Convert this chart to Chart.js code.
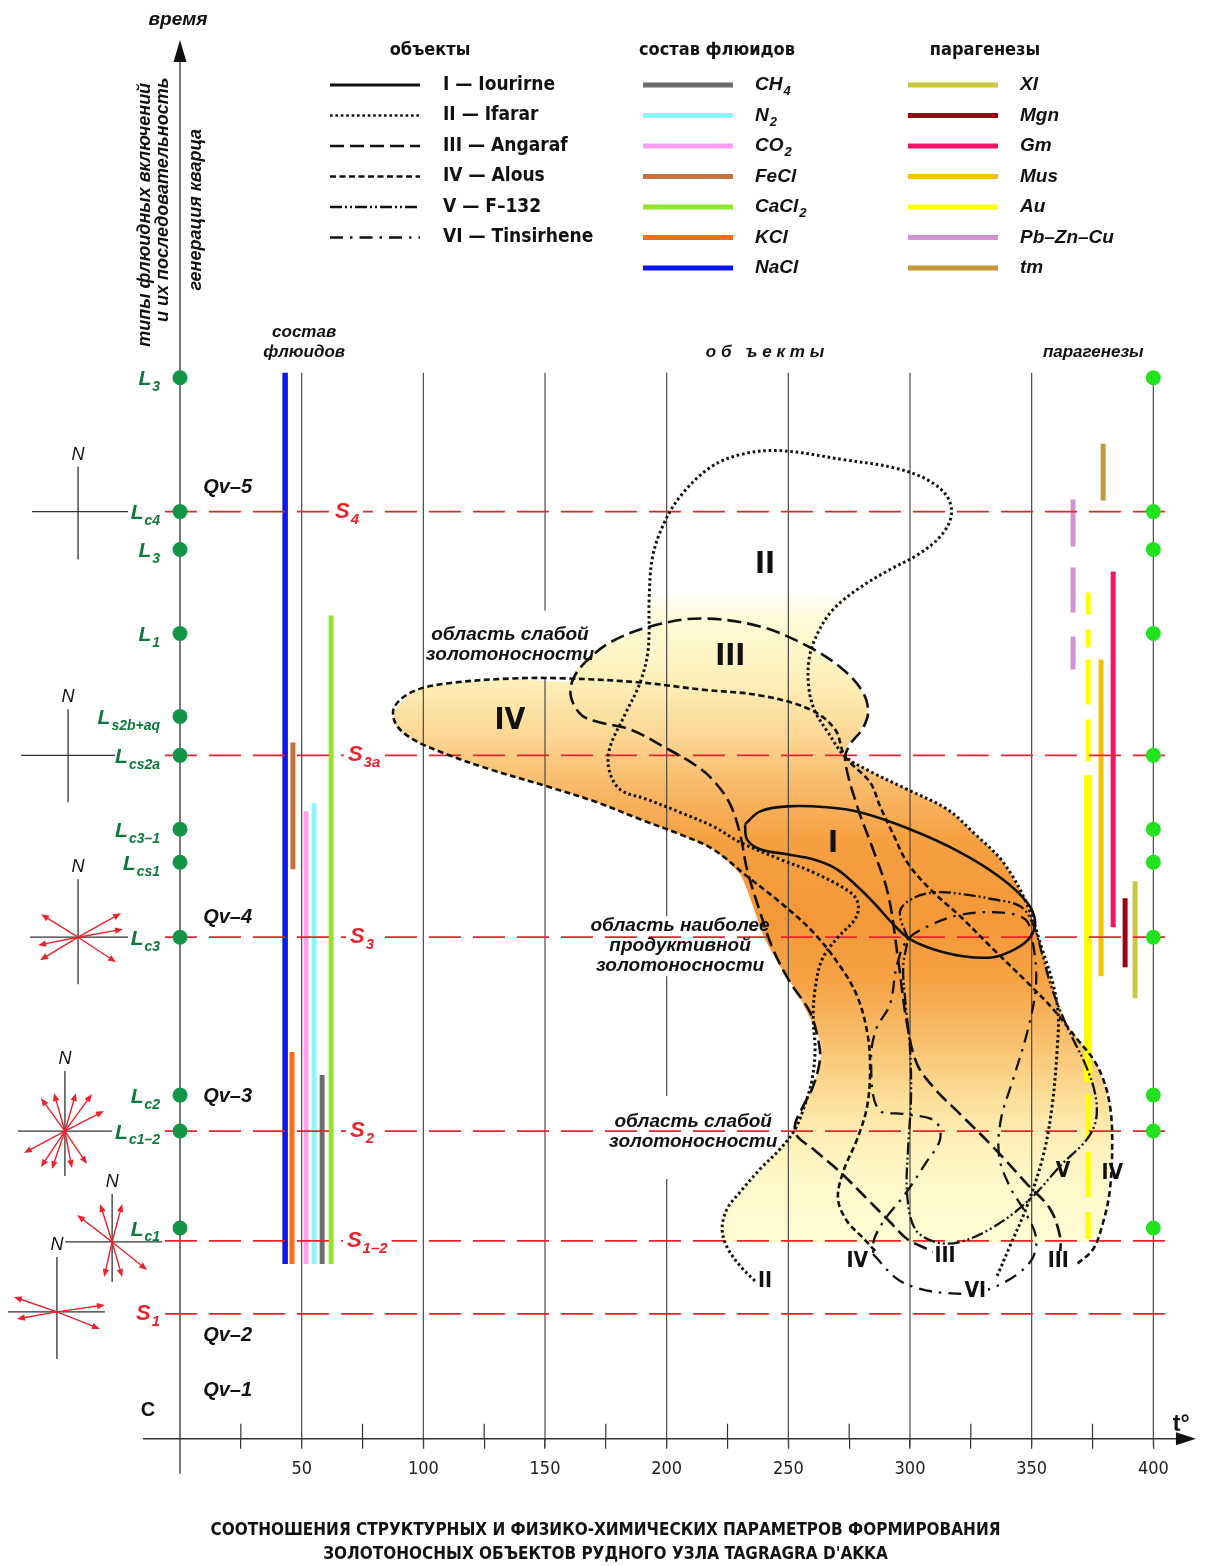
<!DOCTYPE html>
<html>
<head>
<meta charset="utf-8">
<title>Tagragra d'Akka</title>
<script src="https://cdn.jsdelivr.net/npm/chart.js@4.4.1/dist/chart.umd.min.js"></script>
<style>
  html, body { margin: 0; padding: 0; background: #fff; }
  canvas { display: block; }
</style>
</head>
<body>
<canvas id="chart" width="1211" height="1566"></canvas>
<script>
// x = temperature t°, y = relative time level (0 = base of the section)
const tempTicks = [25, 50, 75, 100, 125, 150, 175, 200, 225, 250, 275, 300, 325, 350, 375, 400];
const gridTemps = [50, 100, 150, 200, 250, 300, 350, 400];

// quartz generations / fluid inclusion types on the time axis
const levelY = [106.2, 92.8, 89.0, 80.6, 72.3, 68.4, 61.0, 57.7, 50.2, 34.4, 30.8, 21.1];
const levelNames = [['L', '3'], ['L', 'c4'], ['L', '3'], ['L', '1'], ['L', 's2b+aq'], ['L', 'cs2a'],
  ['L', 'c3–1'], ['L', 'cs1'], ['L', 'c3'], ['L', 'c2'], ['L', 'c1–2'], ['L', 'c1']];
const rightLevelY = [106.2, 92.8, 89.0, 80.6, 68.4, 61.0, 57.7, 50.2, 34.4, 30.8, 21.1];

// structural stages
const stageY = [92.8, 68.4, 50.2, 30.8, 19.8, 12.5];
const stageNames = [['S', '4'], ['S', '3a'], ['S', '3'], ['S', '2'], ['S', '1–2'], ['S', '1']];
const qvNames = ['Qv–5', 'Qv–4', 'Qv–3', 'Qv–2', 'Qv–1'];
const qvY = [95.2, 52.2, 34.3, 10.3, 4.8];

// fluid composition bars
const fluidNames = [['CH', '4'], ['N', '2'], ['CO', '2'], ['FeCl', ''], ['CaCl', '2'], ['KCl', ''], ['NaCl', '']];
const fluidColors = ['#6b6b6b', '#8cf3ff', '#ff9ff2', '#c8703e', '#8fe62a', '#ff6b12', '#0b16f2'];
const fluidT = [58.4, 55.1, 51.8, 46.4, 62.1, 46.0, 43.2];
const fluidRanges = [[[36.4, 17.5]], [[63.6, 17.5]], [[62.8, 17.5]], [[69.7, 57.0]], [[82.4, 17.5]], [[38.7, 17.5]], [[106.7, 17.5]]];

// parageneses bars
const parNames = ['Xl', 'Mgn', 'Gm', 'Mus', 'Au', 'Pb–Zn–Cu', 'tm'];
const parColors = ['#cbc63e', '#a0000f', '#f01468', '#f6c200', '#ffff00', '#d393d3', '#c8963a'];
const parT = [392.5, 388.4, 383.5, 378.5, 373.2, 367.0, 379.4];
const parRanges = [[[55.8, 44.1]], [[54.1, 47.2]], [[86.8, 51.2]], [[78.0, 46.3]],
  [[84.7, 82.5], [81.0, 79.2], [78.0, 73.5], [72.0, 67.8], [34.5, 30.0], [28.7, 24.2], [22.7, 20.0]],
  [[94.0, 89.3], [87.2, 82.7], [80.3, 77.0]], [[99.6, 93.9]]];
const auMain = [66.4, 35.7];

// objects
const objectNames = ['I — Iourirne', 'II — Ifarar', 'III — Angaraf', 'IV — Alous', 'V — F–132', 'VI — Tinsirhene'];

const outlineI = [[232.2, 61.5], [238.4, 62.8], [249.5, 63.3], [265.9, 63.2], [279.5, 62.7], [300.0, 61.0], [320.6, 58.7],
  [337.0, 56.2], [348.1, 53.7], [351.4, 51.8], [349.4, 50.2], [343.2, 49.0], [334.2, 48.2], [321.8, 48.3], [309.5, 49.0],
  [300.0, 50.0], [293.1, 51.5], [285.7, 53.5], [278.7, 55.2], [270.0, 57.0], [260.2, 58.0], [249.5, 58.5], [238.4, 59.0],
  [233.0, 60.0], [232.2, 61.5]];

const outlineII = [[236.3, 15.8], [230.2, 17.3], [224.8, 19.2], [222.8, 21.0], [224.8, 23.0], [230.2, 24.7], [238.4, 27.0],
  [246.6, 29.0], [252.8, 31.0], [256.9, 33.5], [259.8, 36.0], [261.0, 39.0], [260.2, 42.0], [261.0, 45.0], [263.9, 48.0],
  [270.4, 50.2], [277.4, 52.0], [278.7, 53.5], [275.4, 54.7], [260.2, 56.7], [246.6, 58.0], [230.2, 59.7], [219.1, 61.3],
  [205.5, 62.7], [191.9, 64.0], [180.8, 65.0], [176.3, 67.0], [176.7, 69.2], [182.9, 72.5], [189.1, 75.7], [192.4, 79.0],
  [192.8, 84.0], [194.0, 88.0], [198.1, 91.2], [205.5, 94.3], [217.8, 97.2], [230.2, 98.5], [246.6, 98.9], [272.5, 98.0],
  [293.1, 97.2], [307.0, 96.0], [315.3, 94.3], [316.9, 92.3], [312.4, 90.3], [303.3, 88.5], [291.8, 87.0], [279.5, 85.2],
  [268.4, 83.0], [261.8, 80.5], [258.5, 78.0], [258.5, 75.0], [261.0, 72.8], [266.3, 70.7], [273.3, 68.3], [283.6, 66.8],
  [298.8, 65.0], [315.3, 63.0], [326.8, 60.5], [338.3, 57.7], [348.1, 53.5], [354.3, 49.0], [358.8, 45.5], [360.9, 42.5],
  [360.5, 39.0], [358.4, 33.3], [354.7, 28.3], [348.1, 23.3], [341.1, 19.3], [335.8, 16.3]];

const outlineIII = [[314.4, 18.2], [307.0, 19.0], [298.8, 20.0], [291.8, 21.7], [282.4, 24.0], [271.3, 26.7], [260.2, 29.0],
  [253.6, 30.3], [252.8, 31.5], [256.1, 33.3], [260.2, 35.3], [263.0, 38.0], [262.2, 40.0], [258.9, 42.7], [250.7, 45.7],
  [243.7, 49.0], [238.4, 52.7], [233.0, 57.0], [230.2, 60.5], [226.1, 63.5], [219.9, 65.7], [212.5, 67.3], [198.5, 69.3],
  [185.0, 71.0], [172.6, 71.7], [165.2, 72.4], [160.7, 74.2], [161.5, 76.0], [166.5, 77.7], [176.7, 79.7], [193.2, 81.3],
  [213.7, 82.1], [238.4, 81.3], [258.9, 79.2], [272.5, 77.0], [280.7, 74.7], [282.8, 72.7], [280.3, 71.0], [275.4, 69.5],
  [273.3, 68.0], [278.3, 63.3], [284.8, 59.0], [291.0, 54.5], [295.1, 48.0], [298.8, 41.5], [302.9, 37.5], [310.3, 35.0],
  [320.6, 32.5], [334.2, 29.2], [348.1, 25.5], [357.6, 23.0], [361.7, 20.2], [361.7, 18.5]];

const outlineIV = [[285.7, 18.8], [280.3, 20.2], [274.1, 21.8], [270.4, 24.0], [272.5, 26.7], [278.3, 30.0], [282.4, 33.3],
  [283.6, 37.3], [282.4, 40.7], [278.3, 44.3], [271.3, 47.3], [260.2, 50.7], [246.6, 53.7], [233.0, 56.3], [219.1, 59.0],
  [205.5, 60.5], [189.1, 62.0], [171.4, 63.7], [150.8, 65.3], [127.4, 67.0], [109.7, 68.5], [95.8, 70.0], [88.8, 71.5],
  [88.0, 73.2], [95.8, 74.8], [109.7, 75.6], [136.9, 76.1], [159.1, 76.1], [189.1, 75.7], [213.7, 75.0], [238.4, 74.4],
  [258.9, 73.0], [269.2, 71.0], [273.3, 68.3], [283.6, 65.7], [287.7, 63.3], [293.1, 60.5], [298.8, 57.7], [308.3, 55.0],
  [320.6, 52.3], [334.2, 49.0], [348.1, 45.7], [358.8, 43.0], [368.7, 40.0], [375.3, 38.0], [379.4, 36.0], [382.2, 33.3],
  [383.1, 30.0], [382.2, 25.0], [379.4, 21.7], [375.3, 19.0], [368.7, 17.5]];

const outlineV = [[299.2, 50.0], [295.9, 52.8], [302.1, 54.2], [311.1, 54.7], [321.8, 54.5], [334.2, 54.0], [345.3, 53.3],
  [350.6, 51.5], [354.3, 48.5], [358.4, 45.0], [365.0, 41.0], [372.0, 37.5], [376.1, 34.5], [376.5, 32.0], [372.8, 30.0],
  [362.5, 27.5], [349.4, 24.0], [335.0, 21.3], [320.6, 19.7], [310.3, 19.7], [302.1, 21.0], [298.8, 24.5], [299.2, 29.0],
  [300.4, 34.0], [300.0, 39.0], [298.0, 44.0], [297.2, 47.3], [299.2, 50.0]];

const outlineVI = [[284.8, 18.5], [294.7, 16.0], [304.2, 15.0], [314.4, 14.6], [326.8, 14.6], [335.8, 15.3], [345.3, 16.7],
  [350.6, 18.2], [351.8, 20.2], [347.3, 22.7], [341.1, 25.2], [336.6, 28.3], [337.4, 32.0], [342.4, 36.0], [348.5, 41.0],
  [351.8, 45.5], [350.6, 49.5], [347.3, 52.0], [335.0, 52.7], [319.8, 52.4], [308.3, 51.4], [299.2, 50.0], [294.7, 47.5],
  [291.8, 43.5], [286.1, 41.0], [284.0, 38.0], [286.9, 33.0], [298.0, 32.5], [310.3, 31.8], [312.4, 30.0], [306.2, 27.5],
  [298.0, 24.5], [289.8, 22.0], [285.3, 20.0], [284.8, 18.5]];

// envelope of the gold-bearing field (shaded)
const envelope = [[87.5, 72.7], [95.8, 74.8], [109.7, 75.6], [136.9, 76.0], [161.5, 75.8], [162.3, 76.8], [168.5, 78.5],
  [178.8, 80.0], [192.4, 81.2], [193.2, 84.4], [275.4, 84.4], [266.3, 82.2], [259.8, 79.2], [272.5, 77.0], [280.7, 74.7],
  [282.8, 72.7], [279.5, 71.0], [274.6, 69.5], [273.3, 68.3], [279.5, 67.3], [298.8, 65.0], [315.3, 63.0], [326.8, 60.5],
  [338.3, 57.7], [348.1, 53.5], [353.5, 49.5], [358.4, 45.5], [363.7, 41.8], [371.1, 39.3], [376.9, 37.3], [381.0, 34.7],
  [382.7, 31.5], [382.2, 26.7], [380.6, 23.3], [377.3, 20.7], [374.0, 19.7], [223.2, 19.7], [222.8, 21.3], [224.8, 23.0],
  [230.2, 24.7], [238.4, 27.0], [246.6, 29.0], [252.0, 30.7], [256.1, 33.3], [260.2, 35.3], [263.0, 37.5], [263.5, 39.5],
  [261.0, 41.0], [253.6, 44.7], [246.6, 47.3], [240.4, 50.0], [235.5, 53.3], [230.2, 56.5], [219.1, 59.0], [205.5, 60.5],
  [189.1, 62.0], [171.4, 63.7], [150.8, 65.3], [127.4, 67.0], [109.7, 68.5], [95.8, 70.0], [89.2, 71.2], [87.5, 72.7]];
const fillStops = [[85.0, '#ffffff'], [82.0, '#fffbd8'], [76.0, '#fef0ba'], [70.0, '#fcd592'], [65.0, '#f9b866'],
  [60.0, '#f6a042'], [52.0, '#f49838'], [46.0, '#f6a244'], [40.0, '#f9bf6c'], [35.0, '#fcda92'], [30.0, '#fff0b8'],
  [25.0, '#fff9cc'], [19.5, '#fffbd4']];

const SANS = '"Liberation Sans", Arial, sans-serif';
const NARROW = '"Liberation Sans Narrow", "Arial Narrow", "DejaVu Sans Condensed", sans-serif';
const RED = '#e8232b';

const pts = (arr) => arr.map(([x, y]) => ({x, y}));
function bars(t, ranges) {
  const out = [];
  ranges.forEach(([a, b]) => { out.push({x: t, y: a}, {x: t, y: b}, {x: t, y: null}); });
  return out;
}

function fillGradient(context) {
  const chart = context.chart;
  if (!chart.chartArea) return 'rgba(0,0,0,0)';
  const ys = chart.scales.y;
  const top = ys.getPixelForValue(fillStops[0][0]);
  const bottom = ys.getPixelForValue(fillStops[fillStops.length - 1][0]);
  const g = chart.ctx.createLinearGradient(0, top, 0, bottom);
  fillStops.forEach(([lv, c]) => g.addColorStop((ys.getPixelForValue(lv) - top) / (bottom - top), c));
  return g;
}

// datasets are pushed back to front
const datasets = [];
datasets.push({label: 'field', data: pts(envelope), borderColor: 'rgba(0,0,0,0)', borderWidth: 0,
  backgroundColor: fillGradient, fill: 'shape', tension: 0.2});

// vertical grid lines, broken where the notes sit
const gridTop = 106.7, gridBottom = -0.8;
const gridGaps = {150: [[82.9, 76.2]], 200: [[52.3, 46.3], [34.3, 26.0]]};
const gridData = [];
gridTemps.forEach(g => {
  let from = gridTop;
  (gridGaps[g] || []).forEach(([a, b]) => { gridData.push({x: g, y: from}, {x: g, y: a}, {x: g, y: null}); from = b; });
  gridData.push({x: g, y: from}, {x: g, y: gridBottom}, {x: g, y: null});
});
datasets.push({label: 'grid', data: gridData, borderColor: '#4a4a4a', borderWidth: 1.2, clip: false});

// axes lines
datasets.push({label: 'time axis', data: [{x: 0, y: -3.5}, {x: 0, y: 138}], borderColor: '#555', borderWidth: 1.6, clip: false});
datasets.push({label: 'temperature axis', data: [{x: -15.2, y: 0}, {x: 410, y: 0}], borderColor: '#333', borderWidth: 1.5, clip: false});
const minorData = [];
tempTicks.filter(v => v % 50 !== 0).forEach(v => minorData.push({x: v, y: 0}, {x: v, y: 1.5}, {x: v, y: null}));
datasets.push({label: 'minor ticks', data: minorData, borderColor: '#333', borderWidth: 1.2, clip: false});

// fluid composition
fluidNames.forEach((n, i) => {
  datasets.push({label: n.join(''), data: bars(fluidT[i], fluidRanges[i]), borderColor: fluidColors[i],
    borderWidth: n[0] === 'NaCl' ? 5.5 : 5, borderCapStyle: 'butt'});
});
// parageneses
parNames.forEach((n, i) => {
  datasets.push({label: n, data: bars(parT[i], parRanges[i]), borderColor: parColors[i], borderWidth: 5});
});
datasets.push({label: 'Au main', data: bars(parT[4], [auMain]), borderColor: parColors[4], borderWidth: 8});

// stage lines S
const stageData = [];
stageY.forEach(y => stageData.push({x: -6.2, y}, {x: 407.7, y}, {x: -6.2, y: null}));
datasets.push({label: 'stages', data: stageData, borderColor: RED, borderWidth: 1.7, borderDash: [32, 12], clip: false});

// objects
const outlines = [outlineI, outlineII, outlineIII, outlineIV, outlineV, outlineVI];
const objectDash = [[], [2.6, 2.8], [14, 6], [6, 3.5], [12, 3, 2, 3, 2, 3], [13, 7, 2.5, 7]];
const objectWidth = [2.6, 3, 2.6, 2.6, 2.3, 2.3];
outlines.forEach((o, i) => {
  datasets.push({label: objectNames[i], data: pts(o), borderColor: '#111', borderWidth: objectWidth[i],
    borderDash: objectDash[i], tension: 0.35, clip: false});
});

// level points
datasets.push({label: 'levels', data: levelY.map(y => ({x: 0, y})), showLine: false,
  pointRadius: 7.5, pointBackgroundColor: '#139548', pointBorderWidth: 0});
datasets.push({label: 'levels right', data: rightLevelY.map(y => ({x: 400, y})), showLine: false,
  pointRadius: 7.5, pointBackgroundColor: '#22e11f', pointBorderWidth: 0});

datasets.forEach((d, i) => { d.order = datasets.length - i; d.spanGaps = false; if (d.pointRadius === undefined) d.pointRadius = 0; });

// text helpers
function subText(ctx, base, s, x, y, size, align, color, style, bg) {
  const st = style || 'italic bold';
  ctx.font = `${st} ${size}px ${SANS}`;
  const w1 = ctx.measureText(base).width;
  const ss = Math.round(size * 0.66);
  ctx.font = `${st} ${ss}px ${SANS}`;
  const w2 = s ? ctx.measureText(s).width + 1 : 0;
  const w = w1 + w2;
  let x0 = x;
  if (align === 'right') x0 = x - w; else if (align === 'center') x0 = x - w / 2;
  if (bg) { ctx.fillStyle = bg; ctx.fillRect(x0 - 4, y - size * 0.62, w + 8, size * 1.45); }
  ctx.fillStyle = color;
  ctx.textAlign = 'left';
  ctx.textBaseline = 'middle';
  ctx.font = `${st} ${size}px ${SANS}`;
  ctx.fillText(base, x0, y);
  if (s) { ctx.font = `${st} ${ss}px ${SANS}`; ctx.fillText(s, x0 + w1 + 1, y + size * 0.36); }
}
function label(ctx, text, x, y, font, color, align, bg) {
  ctx.font = font;
  ctx.textAlign = align || 'center';
  ctx.textBaseline = 'middle';
  if (bg) {
    const w = ctx.measureText(text).width;
    const x0 = ctx.textAlign === 'center' ? x - w / 2 : ctx.textAlign === 'right' ? x - w : x;
    ctx.fillStyle = bg; ctx.fillRect(x0 - 2, y - 11, w + 4, 22);
  }
  ctx.fillStyle = color;
  ctx.fillText(text, x, y);
}

const roses = [
  {t: -41.9, y: 92.8, h: [-46, 50], v: [-45, 48], rays: []},
  {t: -46.0, y: 68.4, h: [-47, 47], v: [-46, 47], rays: []},
  {t: -41.9, y: 50.2, h: [-48, 50], v: [-58, 47], rays: [[-37, -23], [43, -24], [45, -8], [-40, 8], [-38, 23], [38, 25]]},
  {t: -47.3, y: 30.8, h: [-47, 47], v: [-60, 45], rays: [[-24, -33], [-11, -38], [11, -38], [27, -37], [39, -20],
    [-41, 22], [-24, 36], [-13, 38], [7, 37], [22, 33]]},
  {t: -27.9, y: 19.7, h: [-47, 50], v: [-48, 40], rays: [[-35, -27], [-12, -38], [10, -38], [35, 28], [10, 35], [-8, 35]]},
  {t: -50.6, y: 12.7, h: [-49, 48], v: [-55, 47], rays: [[-43, -15], [48, -7], [-40, 7], [43, 17]]}
];
const stageLabelPos = [[63.7, 'left'], [69.0, 'left'], [69.9, 'left'], [69.9, 'left'], [68.6, 'left'], [-8.2, 'right']];
const notes = [
  {lines: ['область слабой', 'золотоносности'], t: 135.6, y: 80.5},
  {lines: ['область наиболее', 'продуктивной', 'золотоносности'], t: 205.5, y: 51.3},
  {lines: ['область слабой', 'золотоносности'], t: 210.9, y: 31.7}
];
const romanBig = [['II', 240.4, 87.4], ['III', 226.1, 78.2], ['IV', 135.6, 71.8], ['I', 268.4, 59.5]];
const romanSmall = [['II', 240.4, 15.7], ['IV', 278.3, 17.7], ['III', 314.4, 18.2], ['VI', 326.8, 14.7],
  ['III', 360.9, 17.7], ['V', 362.9, 26.7], ['IV', 383.1, 26.5]];

const drawing = {
  id: 'drawing',
  afterDatasetsDraw(chart) {
    const ctx = chart.ctx;
    const X = t => chart.scales.x.getPixelForValue(t);
    const Y = v => chart.scales.y.getPixelForValue(v);
    ctx.save();

    // axis arrows
    ctx.fillStyle = '#111';
    ctx.beginPath();
    ctx.moveTo(X(0), Y(140)); ctx.lineTo(X(0) - 6.5, Y(140) + 22); ctx.lineTo(X(0) + 6.5, Y(140) + 22); ctx.closePath(); ctx.fill();
    ctx.beginPath();
    ctx.moveTo(X(417.5), Y(0)); ctx.lineTo(X(417.5) - 20, Y(0) - 6.5); ctx.lineTo(X(417.5) - 20, Y(0) + 6.5); ctx.closePath(); ctx.fill();
    label(ctx, 'время', X(-0.8), 20, `italic bold 19px ${SANS}`, '#111');
    ctx.font = `bold 23px ${SANS}`; ctx.fillStyle = '#111'; ctx.textAlign = 'left'; ctx.fillText('t°', X(408), Y(1.4));

    // vertical side captions
    [['типы флюидных включений', -14.4, 122.5], ['и их последовательность', -7.0, 124.0], ['генерация кварца', 6.6, 123.0]]
      .forEach(([s, t, y]) => {
        ctx.save(); ctx.translate(X(t), Y(y)); ctx.rotate(-Math.PI / 2);
        label(ctx, s, 0, 0, `italic bold 18px ${SANS}`, '#111'); ctx.restore();
      });

    // compass roses
    roses.forEach(r => {
      const cx = X(r.t), cy = Y(r.y);
      ctx.strokeStyle = '#333'; ctx.lineWidth = 1.3; ctx.setLineDash([]);
      ctx.beginPath();
      ctx.moveTo(cx + r.h[0], cy); ctx.lineTo(cx + r.h[1], cy);
      ctx.moveTo(cx, cy + r.v[0]); ctx.lineTo(cx, cy + r.v[1]);
      ctx.stroke();
      label(ctx, 'N', cx, cy + r.v[0] - 12, `italic 18px ${SANS}`, '#111');
      ctx.strokeStyle = RED; ctx.fillStyle = RED; ctx.lineWidth = 1.4;
      r.rays.forEach(([dx, dy]) => {
        const len = Math.hypot(dx, dy), ux = dx / len, uy = dy / len;
        ctx.beginPath(); ctx.moveTo(cx, cy); ctx.lineTo(cx + dx - ux * 4, cy + dy - uy * 4); ctx.stroke();
        ctx.beginPath();
        ctx.moveTo(cx + dx, cy + dy);
        ctx.lineTo(cx + dx - ux * 8 - uy * 3.2, cy + dy - uy * 8 + ux * 3.2);
        ctx.lineTo(cx + dx - ux * 8 + uy * 3.2, cy + dy - uy * 8 - ux * 3.2);
        ctx.closePath(); ctx.fill();
      });
    });

    // level labels
    levelNames.forEach(([b, s], i) => subText(ctx, b, s, X(-8.2), Y(levelY[i]) + 2, 21, 'right', '#0c7a3c'));
    // stage labels
    stageNames.forEach(([b, s], i) => {
      const [t, al] = stageLabelPos[i];
      subText(ctx, b, s, X(t), Y(stageY[i]), 22, al, RED, 'italic bold', '#fff');
    });
    qvNames.forEach((q, i) => label(ctx, q, X(9.5), Y(qvY[i]), `italic bold 20px ${SANS}`, '#111', 'left'));
    label(ctx, 'C', X(-13.2), Y(2.8), `bold 20px ${SANS}`, '#111');

    // section captions
    label(ctx, 'состав', X(51), 332, `italic bold 17px ${SANS}`, '#111');
    label(ctx, 'флюидов', X(51), 352, `italic bold 17px ${SANS}`, '#111');
    label(ctx, 'о б   ъ е к т ы', X(240.4), 352, `italic bold 17px ${SANS}`, '#111');
    label(ctx, 'парагенезы', X(375.3), 352, `italic bold 17px ${SANS}`, '#111');

    // notes and object numbers
    notes.forEach(n => n.lines.forEach((l, k) =>
      label(ctx, l, X(n.t), Y(n.y) + k * 20, `italic bold 19px ${SANS}`, '#111')));
    romanBig.forEach(([s, t, y]) => label(ctx, s, X(t), Y(y), `bold 30px ${NARROW}`, '#111'));
    romanSmall.forEach(([s, t, y], i) => label(ctx, s, X(t), Y(y), `bold 21px ${NARROW}`, '#111', 'center', i < 5 ? '#fff' : null));

    // legend
    const rowY = k => 85 + k * 30.5;
    label(ctx, 'объекты', 430, 50, `bold 18px ${NARROW}`, '#111');
    label(ctx, 'состав флюидов', 717, 50, `bold 18px ${NARROW}`, '#111');
    label(ctx, 'парагенезы', 985, 50, `bold 18px ${NARROW}`, '#111');
    objectNames.forEach((n, k) => {
      ctx.strokeStyle = '#111'; ctx.lineWidth = k === 0 ? 3 : 2.6; ctx.setLineDash(objectDash[k]);
      ctx.beginPath(); ctx.moveTo(330, rowY(k)); ctx.lineTo(420, rowY(k)); ctx.stroke();
      label(ctx, n, 443, rowY(k), `bold 19px ${NARROW}`, '#111', 'left');
    });
    ctx.setLineDash([]);
    fluidNames.forEach(([b, s], k) => {
      ctx.strokeStyle = fluidColors[k]; ctx.lineWidth = 5;
      ctx.beginPath(); ctx.moveTo(643, rowY(k)); ctx.lineTo(733, rowY(k)); ctx.stroke();
      subText(ctx, b, s, 755, rowY(k), 19, 'left', '#111');
    });
    parNames.forEach((n, k) => {
      ctx.strokeStyle = parColors[k]; ctx.lineWidth = 5;
      ctx.beginPath(); ctx.moveTo(908, rowY(k)); ctx.lineTo(998, rowY(k)); ctx.stroke();
      subText(ctx, n, '', 1020, rowY(k), 19, 'left', '#111');
    });
    ctx.restore();
  }
};

new Chart(document.getElementById('chart'), {
  type: 'line',
  data: {datasets},
  plugins: [drawing],
  options: {
    responsive: false,
    animation: false,
    devicePixelRatio: 1,
    events: [],
    layout: {padding: 0, autoPadding: false},
    elements: {line: {fill: false}},
    plugins: {
      legend: {display: false},
      tooltip: {enabled: false},
      title: {
        display: true,
        position: 'bottom',
        text: ['СООТНОШЕНИЯ СТРУКТУРНЫХ И ФИЗИКО-ХИМИЧЕСКИХ ПАРАМЕТРОВ ФОРМИРОВАНИЯ',
          'ЗОЛОТОНОСНЫХ ОБЪЕКТОВ РУДНОГО УЗЛА TAGRAGRA D\'AKKA'],
        color: '#111',
        font: {family: NARROW, size: 17, weight: 'bold', lineHeight: 1.4},
        padding: {top: 28, bottom: 0}
      }
    },
    scales: {
      x: {
        type: 'linear',
        min: -73.98,
        max: 423.7,
        afterBuildTicks: s => { s.ticks = tempTicks.map(v => ({value: v})); },
        border: {display: false},
        grid: {drawOnChartArea: false, drawTicks: true, tickLength: 10, color: '#333', lineWidth: 1.2},
        ticks: {
          autoSkip: false, maxRotation: 0, padding: 10, color: '#222',
          font: {family: NARROW, size: 18},
          callback: v => (v % 50 === 0 ? String(v) : '')
        }
      },
      y: {type: 'linear', display: false, min: 0, max: 144}
    }
  }
});
</script>
</body>
</html>
